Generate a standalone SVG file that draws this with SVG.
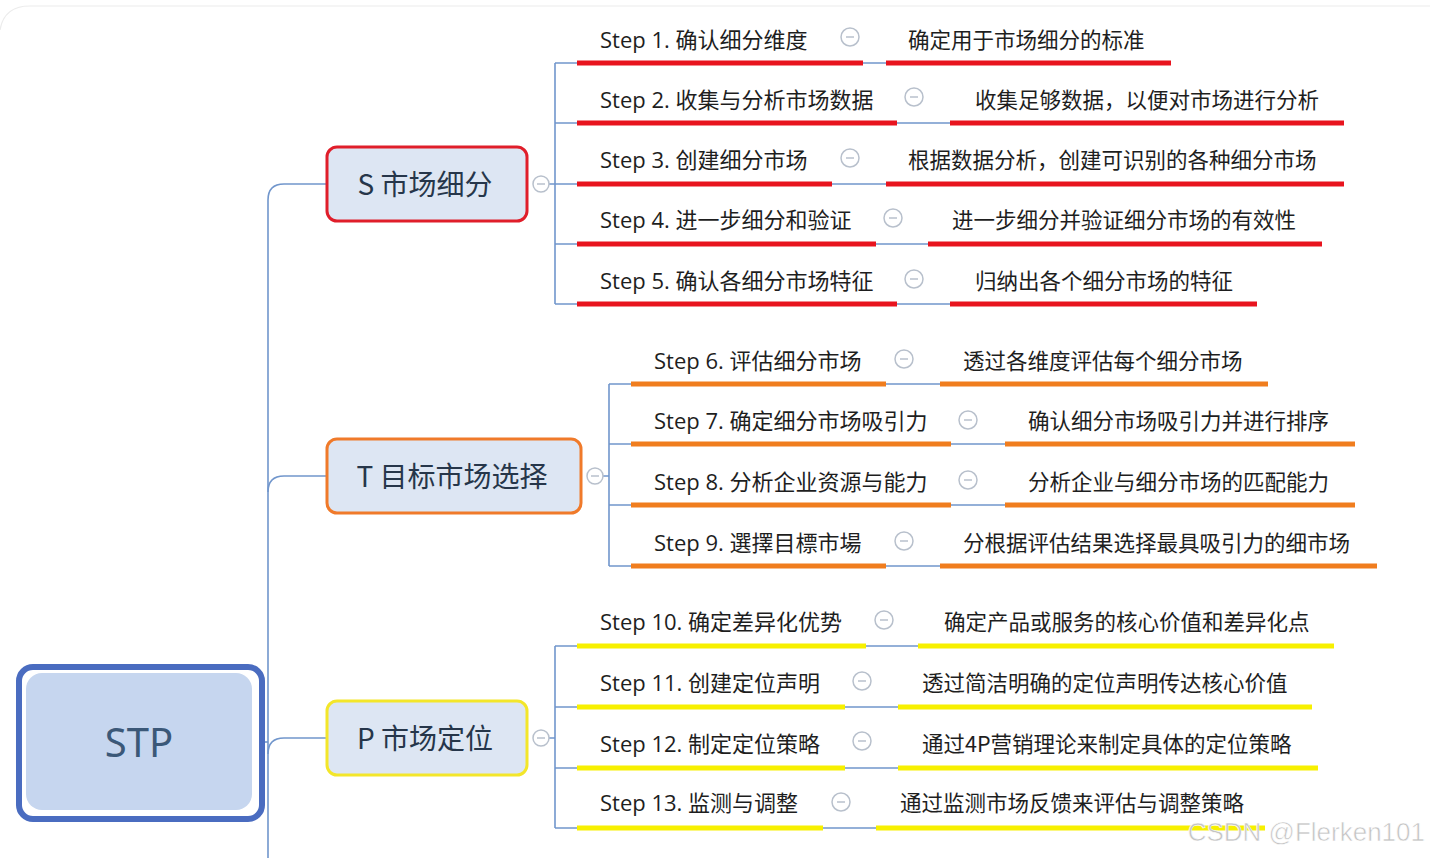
<svg xmlns="http://www.w3.org/2000/svg" width="1430" height="858" viewBox="0 0 1430 858">
<style>
.step{font-family:"Open Sans","Noto Sans CJK SC",sans-serif;font-size:22px;fill:#1e1e1e}
.desc{font-family:"Noto Sans CJK SC",sans-serif;font-size:21.5px;fill:#1e1e1e}
.node{font-family:"Noto Sans CJK SC","Noto Sans",sans-serif;font-size:28px;fill:#26364a;text-anchor:middle}
.conn{fill:none;stroke:#7196cc;stroke-width:1.6}
.ur{stroke:#e8141e;stroke-width:5}
.uo{stroke:#f07d1e;stroke-width:5}
.uy{stroke:#f7f000;stroke-width:5}
.tog circle{fill:#fff;stroke:#b8c0cc;stroke-width:1.5}
.tog line{stroke:#b8c0cc;stroke-width:1.5}
</style>
<rect x="0" y="0" width="1430" height="858" fill="#fff"/>
<path d="M0,30 Q4,6 30,6 H1430" fill="none" stroke="#ececec" stroke-width="1.2"/>

<g id="connectors" class="conn">
  <path d="M268,858 V200 Q268,184 284,184 H326"/>
  <path d="M268,492 Q268,476 284,476 H326"/>
  <path d="M268,754 Q268,738 284,738 H326"/>
  <path d="M252,742 H268"/>
  <path d="M549,184 H555 M555,63 V304 M555,63 H577 M555,123 H577 M555,184 H577 M555,244 H577 M555,304 H577"/>
  <path d="M603,476 H609 M609,384 V566 M609,384 H631 M609,444 H631 M609,505 H631 M609,566 H631"/>
  <path d="M549,738 H555 M555,646 V828 M555,646 H577 M555,707 H577 M555,768 H577 M555,828 H577"/>
  <path d="M863,63 H886 M897,123 H950 M832,184 H886 M876,244 H928 M897,304 H950"/>
  <path d="M886,384 H940 M951,444 H1005 M951,505 H1005 M886,566 H940"/>
  <path d="M866,646 H918 M845,707 H898 M845,768 H898 M823,828 H876"/>
</g>

<g id="stp">
  <rect x="19" y="667" width="243" height="152" rx="14" fill="#fff" stroke="#4a6cc0" stroke-width="6"/>
  <rect x="26" y="673" width="226" height="137" rx="16" fill="#c6d6ef"/>
  <text x="139" y="757" font-family="Noto Sans, sans-serif" font-size="40" fill="#3b5878" text-anchor="middle">STP</text>
</g>

<g id="s-node">
  <rect x="327" y="147" width="200" height="74" rx="10" fill="#dde6f3" stroke="#e01e2a" stroke-width="3"/>
  <text class="node" x="425" y="195">S 市场细分</text>
  <g class="tog"><circle cx="541" cy="184" r="8"/><line x1="537" y1="184" x2="545" y2="184"/></g>
</g>
<g id="t-node">
  <rect x="327" y="439" width="254" height="74" rx="10" fill="#dde6f3" stroke="#f07a2a" stroke-width="3"/>
  <text class="node" x="452" y="487">T 目标市场选择</text>
  <g class="tog"><circle cx="595" cy="476" r="8"/><line x1="591" y1="476" x2="599" y2="476"/></g>
</g>
<g id="p-node">
  <rect x="327" y="701" width="200" height="74" rx="10" fill="#dde6f3" stroke="#f3e62a" stroke-width="3"/>
  <text class="node" x="425" y="749">P 市场定位</text>
  <g class="tog"><circle cx="541" cy="738" r="8"/><line x1="537" y1="738" x2="545" y2="738"/></g>
</g>

<g id="step1"><text class="step" x="600" y="48">Step 1. 确认细分维度</text><line class="ur" x1="577" y1="63" x2="863" y2="63"/><g class="tog"><circle cx="850" cy="37" r="9"/><line x1="846" y1="37" x2="854" y2="37"/></g><text class="desc" x="908" y="48">确定用于市场细分的标准</text><line class="ur" x1="886" y1="63" x2="1171" y2="63"/></g>
<g id="step2"><text class="step" x="600" y="108">Step 2. 收集与分析市场数据</text><line class="ur" x1="577" y1="123" x2="897" y2="123"/><g class="tog"><circle cx="914" cy="97" r="9"/><line x1="910" y1="97" x2="918" y2="97"/></g><text class="desc" x="975" y="108">收集足够数据，以便对市场进行分析</text><line class="ur" x1="950" y1="123" x2="1344" y2="123"/></g>
<g id="step3"><text class="step" x="600" y="168">Step 3. 创建细分市场</text><line class="ur" x1="577" y1="184" x2="832" y2="184"/><g class="tog"><circle cx="850" cy="158" r="9"/><line x1="846" y1="158" x2="854" y2="158"/></g><text class="desc" x="908" y="168">根据数据分析，创建可识别的各种细分市场</text><line class="ur" x1="886" y1="184" x2="1344" y2="184"/></g>
<g id="step4"><text class="step" x="600" y="228">Step 4. 进一步细分和验证</text><line class="ur" x1="577" y1="244" x2="876" y2="244"/><g class="tog"><circle cx="893" cy="218" r="9"/><line x1="889" y1="218" x2="897" y2="218"/></g><text class="desc" x="952" y="228">进一步细分并验证细分市场的有效性</text><line class="ur" x1="928" y1="244" x2="1322" y2="244"/></g>
<g id="step5"><text class="step" x="600" y="289">Step 5. 确认各细分市场特征</text><line class="ur" x1="577" y1="304" x2="897" y2="304"/><g class="tog"><circle cx="914" cy="279" r="9"/><line x1="910" y1="279" x2="918" y2="279"/></g><text class="desc" x="975" y="289">归纳出各个细分市场的特征</text><line class="ur" x1="950" y1="304" x2="1257" y2="304"/></g>

<g id="step6"><text class="step" x="654" y="369">Step 6. 评估细分市场</text><line class="uo" x1="631" y1="384" x2="886" y2="384"/><g class="tog"><circle cx="904" cy="359" r="9"/><line x1="900" y1="359" x2="908" y2="359"/></g><text class="desc" x="963" y="369">透过各维度评估每个细分市场</text><line class="uo" x1="940" y1="384" x2="1268" y2="384"/></g>
<g id="step7"><text class="step" x="654" y="429">Step 7. 确定细分市场吸引力</text><line class="uo" x1="631" y1="444" x2="951" y2="444"/><g class="tog"><circle cx="968" cy="420" r="9"/><line x1="964" y1="420" x2="972" y2="420"/></g><text class="desc" x="1028" y="429">确认细分市场吸引力并进行排序</text><line class="uo" x1="1005" y1="444" x2="1355" y2="444"/></g>
<g id="step8"><text class="step" x="654" y="490">Step 8. 分析企业资源与能力</text><line class="uo" x1="631" y1="505" x2="951" y2="505"/><g class="tog"><circle cx="968" cy="480" r="9"/><line x1="964" y1="480" x2="972" y2="480"/></g><text class="desc" x="1028" y="490">分析企业与细分市场的匹配能力</text><line class="uo" x1="1005" y1="505" x2="1355" y2="505"/></g>
<g id="step9"><text class="step" x="654" y="551">Step 9. 選擇目標市場</text><line class="uo" x1="631" y1="566" x2="886" y2="566"/><g class="tog"><circle cx="904" cy="541" r="9"/><line x1="900" y1="541" x2="908" y2="541"/></g><text class="desc" x="963" y="551">分根据评估结果选择最具吸引力的细市场</text><line class="uo" x1="940" y1="566" x2="1377" y2="566"/></g>

<g id="step10"><text class="step" x="600" y="630">Step 10. 确定差异化优势</text><line class="uy" x1="577" y1="646" x2="866" y2="646"/><g class="tog"><circle cx="884" cy="620" r="9"/><line x1="880" y1="620" x2="888" y2="620"/></g><text class="desc" x="944" y="630">确定产品或服务的核心价值和差异化点</text><line class="uy" x1="918" y1="646" x2="1334" y2="646"/></g>
<g id="step11"><text class="step" x="600" y="691">Step 11. 创建定位声明</text><line class="uy" x1="577" y1="707" x2="845" y2="707"/><g class="tog"><circle cx="862" cy="681" r="9"/><line x1="858" y1="681" x2="866" y2="681"/></g><text class="desc" x="922" y="691">透过简洁明确的定位声明传达核心价值</text><line class="uy" x1="898" y1="707" x2="1312" y2="707"/></g>
<g id="step12"><text class="step" x="600" y="752">Step 12. 制定定位策略</text><line class="uy" x1="577" y1="768" x2="845" y2="768"/><g class="tog"><circle cx="862" cy="741" r="9"/><line x1="858" y1="741" x2="866" y2="741"/></g><text class="desc" x="922" y="752">通过4P营销理论来制定具体的定位策略</text><line class="uy" x1="898" y1="768" x2="1318" y2="768"/></g>
<g id="step13"><text class="step" x="600" y="811">Step 13. 监测与调整</text><line class="uy" x1="577" y1="828" x2="823" y2="828"/><g class="tog"><circle cx="841" cy="802" r="9"/><line x1="837" y1="802" x2="845" y2="802"/></g><text class="desc" x="900" y="811">通过监测市场反馈来评估与调整策略</text><line class="uy" x1="876" y1="828" x2="1265" y2="828"/></g>

<text x="1425" y="841" font-family="Liberation Sans, sans-serif" font-size="26" fill="#c4c4c4" stroke="#ffffff" stroke-width="0.6" text-anchor="end">CSDN @Flerken101</text>
</svg>
